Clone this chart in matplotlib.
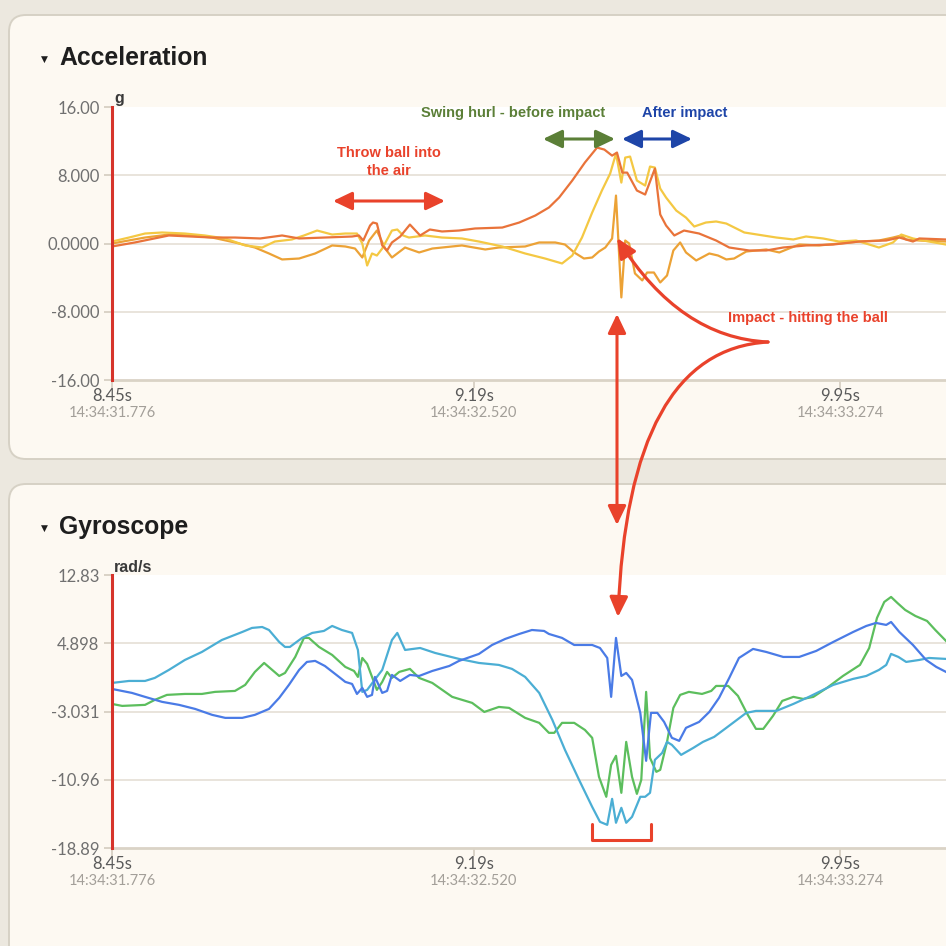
import matplotlib
matplotlib.use("Agg")
import matplotlib.pyplot as plt
from matplotlib.patches import FancyBboxPatch, FancyArrowPatch
from matplotlib.path import Path
from matplotlib.transforms import blended_transform_factory

# ---- acceleration (g) ----
acc_x_t = [8.450, 8.497, 8.567, 8.656, 8.703, 8.755, 8.800, 8.835, 8.888, 8.944,
           8.958, 8.967, 8.981, 8.987, 8.995, 9.006, 9.016, 9.026, 9.043, 9.063,
           9.084, 9.104, 9.129, 9.164, 9.197, 9.253, 9.288, 9.321, 9.349, 9.370,
           9.397, 9.423, 9.448, 9.463, 9.479, 9.489, 9.500, 9.510, 9.530, 9.547,
           9.567, 9.578, 9.590, 9.607, 9.627, 9.658, 9.693, 9.720, 9.761, 9.796,
           9.831, 9.878, 9.934, 9.987, 10.043, 10.070, 10.098, 10.111, 10.166]
acc_x = [-0.35, 0.12, 0.94, 0.70, 0.70, 0.59, 0.94, 0.59, 0.70, 0.82,
         0.94, 0.35, 2.11, 2.46, 2.34, -0.23, -0.82, 0.12, 0.82, 2.22,
         0.94, 1.64, 1.41, 1.52, 1.76, 1.87, 2.46, 3.28, 4.22, 5.39,
         7.38, 9.49, 11.24, 11.01, 10.30, 10.66, 8.31, 8.31, 6.21, 5.74,
         8.78, 3.40, 2.11, 0.94, 1.52, 1.17, 0.35, -0.47, -0.82, -0.82,
         -0.47, -0.23, -0.12, 0.23, 0.35, 0.70, 0.23, 0.59, 0.47]

acc_y_t = [8.450, 8.485, 8.518, 8.553, 8.600, 8.641, 8.683, 8.724, 8.759, 8.785,
           8.820, 8.845, 8.872, 8.903, 8.930, 8.954, 8.965, 8.975, 8.985, 8.995,
           9.006, 9.026, 9.037, 9.049, 9.061, 9.094, 9.129, 9.170, 9.205, 9.253,
           9.300, 9.341, 9.376, 9.397, 9.417, 9.438, 9.458, 9.475, 9.487, 9.498,
           9.506, 9.516, 9.530, 9.547, 9.557, 9.567, 9.578, 9.590, 9.611, 9.631,
           9.648, 9.672, 9.693, 9.714, 9.751, 9.790, 9.817, 9.852, 9.878, 9.913,
           9.946, 9.981, 10.028, 10.057, 10.074, 10.098, 10.131, 10.166]
acc_y = [0.23, 0.70, 1.17, 1.29, 1.17, 0.94, 0.59, -0.23, -0.47, 0.23,
         0.47, 0.94, 1.52, 1.05, 1.17, 1.17, 0.00, -2.58, -1.17, -1.41,
         -0.59, 1.52, 1.64, 0.94, 0.70, 0.94, 0.70, 0.59, 0.23, -0.35,
         -1.17, -1.76, -2.34, -1.41, 0.70, 3.63, 6.21, 8.20, 10.54, 7.14,
         10.07, 10.19, 7.38, 6.79, 9.02, 8.90, 6.44, 5.39, 3.86, 3.04,
         1.99, 2.46, 2.58, 2.34, 1.29, 0.94, 0.70, 0.47, 0.82, 0.59,
         0.23, 0.35, -0.47, 0.12, 1.05, 0.59, 0.23, -0.12]

acc_z_t = [8.450, 8.518, 8.567, 8.608, 8.656, 8.703, 8.744, 8.773, 8.800, 8.835,
           8.868, 8.903, 8.930, 8.950, 8.965, 8.979, 8.995, 9.012, 9.026, 9.053,
           9.082, 9.109, 9.170, 9.218, 9.246, 9.300, 9.329, 9.362, 9.382, 9.401,
           9.421, 9.438, 9.452, 9.465, 9.479, 9.487, 9.498, 9.506, 9.514, 9.526,
           9.541, 9.551, 9.565, 9.578, 9.592, 9.605, 9.619, 9.631, 9.652, 9.679,
           9.697, 9.714, 9.730, 9.755, 9.796, 9.823, 9.843, 9.864, 9.905, 9.946,
           9.987, 10.028, 10.057, 10.074, 10.084, 10.111, 10.166]
acc_z = [0.00, 0.70, 1.05, 0.94, 0.70, 0.12, -0.47, -1.17, -1.87, -1.76,
         -1.17, -0.23, -0.35, -0.59, -1.64, 0.35, 1.52, -0.59, -1.64, -0.47,
         -1.05, -0.59, -0.23, -0.70, -0.47, -0.35, 0.12, 0.12, -0.12, -1.05,
         -1.76, -1.64, -0.94, -0.47, 0.59, 5.62, -6.32, 0.35, 0.00, -3.51,
         -4.33, -3.40, -3.40, -4.57, -3.75, -0.82, 0.12, -1.05, -1.99, -1.17,
         -1.41, -1.87, -1.76, -0.94, -0.70, -1.05, -0.59, -0.12, -0.23, 0.00,
         0.23, 0.35, 0.70, 0.94, 0.47, 0.35, 0.23]

# ---- gyroscope (rad/s) ----
gyr_a_t = [8.450, 8.485, 8.518, 8.538, 8.567, 8.600, 8.635, 8.676, 8.718, 8.738,
           8.759, 8.773, 8.794, 8.806, 8.816, 8.841, 8.862, 8.886, 8.903, 8.923,
           8.944, 8.956, 8.965, 8.975, 8.995, 9.006, 9.026, 9.037, 9.053, 9.084,
           9.115, 9.164, 9.205, 9.246, 9.273, 9.300, 9.329, 9.356, 9.382, 9.411,
           9.438, 9.454, 9.469, 9.479, 9.487, 9.498, 9.508, 9.520, 9.537, 9.547,
           9.557, 9.567, 9.582, 9.592, 9.602, 9.621, 9.646, 9.666, 9.689, 9.714,
           9.755, 9.775, 9.817, 9.852, 9.884, 9.934, 9.975, 10.002, 10.028, 10.043,
           10.053, 10.068, 10.084, 10.111, 10.131, 10.166]
gyr_a = [0.29, 0.52, 0.52, 0.87, 1.80, 2.96, 3.89, 5.28, 6.21, 6.68,
         6.79, 6.44, 5.05, 4.47, 4.47, 5.52, 6.10, 6.33, 6.91, 6.44,
         6.10, 4.12, -0.75, -0.52, 0.99, 1.80, 5.28, 6.10, 4.12, 4.35,
         3.77, 3.08, 2.61, 2.38, 1.92, 0.99, -0.87, -4.00, -7.49, -10.97,
         -14.11, -15.85, -16.20, -13.18, -15.96, -14.22, -15.96, -15.27, -12.94, -12.94,
         -12.48, -8.65, -7.84, -6.56, -6.91, -8.07, -7.26, -6.56, -5.98, -4.93,
         -3.19, -2.96, -2.96, -2.15, -1.33, 0.06, 0.76, 1.10, 1.80, 2.38,
         3.66, 3.31, 2.73, 2.96, 3.19, 3.08]

gyr_b_t = [8.450, 8.491, 8.518, 8.553, 8.588, 8.621, 8.656, 8.683, 8.718, 8.744,
           8.773, 8.794, 8.814, 8.835, 8.851, 8.868, 8.888, 8.917, 8.930, 8.944,
           8.954, 8.965, 8.975, 8.985, 8.991, 9.006, 9.016, 9.026, 9.043, 9.063,
           9.082, 9.109, 9.144, 9.164, 9.205, 9.232, 9.259, 9.288, 9.314, 9.339,
           9.349, 9.376, 9.401, 9.438, 9.454, 9.469, 9.477, 9.487, 9.498, 9.508,
           9.520, 9.537, 9.549, 9.559, 9.572, 9.586, 9.602, 9.617, 9.631, 9.658,
           9.679, 9.699, 9.720, 9.740, 9.769, 9.796, 9.831, 9.864, 9.899, 9.934,
           9.975, 10.002, 10.022, 10.043, 10.053, 10.070, 10.098, 10.125, 10.146, 10.166]
gyr_b = [-0.41, -0.87, -1.33, -1.91, -2.26, -2.73, -3.42, -3.77, -3.77, -3.42,
         -2.73, -1.45, 0.06, 1.80, 2.73, 2.85, 2.26, 0.99, 0.41, 0.17,
         -0.99, -0.29, -1.33, -1.10, 0.99, -0.87, -0.64, 1.22, 0.52, 1.22,
         1.10, 1.68, 2.26, 2.85, 3.66, 4.70, 5.40, 5.98, 6.44, 6.33,
         5.98, 5.52, 4.70, 4.70, 4.35, 3.19, -1.33, 5.52, 1.10, 1.45,
         0.64, -3.19, -8.76, -3.19, -3.19, -4.24, -6.09, -6.44, -4.93, -4.24,
         -3.08, -1.45, 0.87, 3.19, 4.24, 3.89, 3.31, 3.31, 4.01, 5.05,
         6.21, 6.91, 7.26, 7.03, 7.37, 6.21, 4.70, 2.96, 2.15, 1.57]

gyr_c_t = [8.450, 8.471, 8.518, 8.538, 8.563, 8.600, 8.635, 8.662, 8.703, 8.724,
           8.744, 8.763, 8.794, 8.806, 8.827, 8.845, 8.855, 8.876, 8.903, 8.930,
           8.948, 8.956, 8.965, 8.975, 8.985, 8.995, 9.006, 9.016, 9.026, 9.041,
           9.063, 9.082, 9.109, 9.150, 9.191, 9.216, 9.246, 9.267, 9.300, 9.329,
           9.349, 9.360, 9.376, 9.401, 9.423, 9.438, 9.452, 9.467, 9.477, 9.487,
           9.498, 9.508, 9.520, 9.530, 9.539, 9.549, 9.557, 9.570, 9.578, 9.592,
           9.605, 9.619, 9.637, 9.664, 9.683, 9.693, 9.718, 9.738, 9.757, 9.775,
           9.790, 9.810, 9.829, 9.852, 9.872, 9.893, 9.921, 9.954, 9.989, 10.008,
           10.024, 10.039, 10.053, 10.066, 10.082, 10.103, 10.127, 10.144, 10.166]
gyr_c = [-2.15, -2.38, -2.26, -1.68, -1.10, -0.99, -0.99, -0.75, -0.64, 0.06,
         1.57, 2.61, 1.10, 1.45, 3.31, 5.52, 5.52, 4.47, 3.54, 2.15,
         1.68, 0.99, 3.19, 2.50, 0.99, -0.52, 0.41, 1.57, 0.87, 1.57,
         1.92, 0.87, 0.29, -1.33, -2.03, -3.08, -2.50, -2.61, -3.77, -4.35,
         -5.51, -5.51, -4.35, -4.35, -5.17, -6.09, -10.62, -12.94, -9.23, -8.18,
         -12.48, -6.56, -10.62, -12.60, -10.97, -0.75, -8.42, -10.04, -9.81, -6.56,
         -2.61, -1.10, -0.75, -0.99, -0.64, -0.06, -0.06, -1.22, -3.31, -5.05,
         -5.05, -3.54, -1.80, -1.33, -1.57, -1.33, -0.29, 1.10, 2.38, 4.35,
         7.84, 9.70, 10.28, 9.58, 8.77, 8.07, 7.49, 6.44, 5.17]

# ---- axes ----
acc_ticks = [-16, -8, 0, 8, 16]
acc_tick_labels = ["-16.00", "-8.000", "0.0000", "8.000", "16.00"]
gyr_ticks = [-18.89, -10.96, -3.031, 4.898, 12.83]
gyr_tick_labels = ["-18.89", "-10.96", "-3.031", "4.898", "12.83"]
time_ticks = [8.45, 9.194, 9.948]
time_labels = ["8.45s", "9.19s", "9.95s"]
clock_labels = ["14:34:31.776", "14:34:32.520", "14:34:33.274"]
t_min, t_max = 8.45, 10.166

PAGE = "#ECE8DF"
CARD = "#FDF9F2"
RED = "#E9422B"
TICKC = "#D3CCBF"
FONT = "Liberation Sans"

fig = plt.figure(figsize=(9.46, 9.46), dpi=100, facecolor=PAGE)

# background cards (pixel coordinates)
bg = fig.add_axes([0, 0, 1, 1], zorder=0)
bg.set_xlim(0, 946)
bg.set_ylim(946, 0)
bg.axis("off")
for top, bottom in [(15, 459), (484, 990)]:
    bg.add_patch(FancyBboxPatch((9, top), 1000, bottom - top,
                                boxstyle="round,pad=0,rounding_size=17",
                                fc=CARD, ec="#D6D1C5", lw=1.4))
for y, title in [(58, "Acceleration"), (527, "Gyroscope")]:
    bg.text(44, y + 1, "\u25bc", fontsize=6.5, ha="center", va="center",
            color="#1E1E1E", family="DejaVu Sans")
    bg.text(59, y, title, fontsize=17.8, fontweight="bold", ha="left",
            va="center", color="#1E1E1E", family=FONT)
bg.text(114, 103, "g", fontsize=11.5, fontweight="bold", color="#3A3A3A",
        va="baseline", family=FONT)
bg.text(114, 572, "rad/s", fontsize=11.5, fontweight="bold", color="#3A3A3A",
        va="baseline", family=FONT)


def style_axes(ax, ticks, labels):
    ax.set_facecolor("white")
    ax.set_xlim(t_min, t_max)
    ax.set_ylim(ticks[0], ticks[-1])
    ax.set_yticks(ticks)
    ax.set_yticklabels(labels, family="Lato", fontsize=12, color="#707070")
    ax.set_xticks(time_ticks)
    ax.set_xticklabels(time_labels, family="Lato", fontsize=12, color="#5A5A5A")
    ax.tick_params(axis="y", length=6, width=1.2, color=TICKC, pad=3)
    ax.tick_params(axis="x", length=6, width=1.2, color=TICKC, pad=0)
    for s in ("top", "right"):
        ax.spines[s].set_visible(False)
    ax.spines["left"].set_color("#D6342B")
    ax.spines["left"].set_linewidth(2.2)
    ax.spines["left"].set_zorder(5)
    ax.spines["bottom"].set_color("#DAD3C6")
    ax.spines["bottom"].set_linewidth(2)
    for yv in ticks[1:-1]:
        ax.axhline(yv, color="#E7E2D9", lw=1.3, zorder=1)
    tr = blended_transform_factory(ax.transData, ax.transAxes)
    for tv, lab in zip(time_ticks, clock_labels):
        ax.text(tv, -0.12, lab, transform=tr, ha="center", va="center",
                fontsize=10.5, color="#A39F99", family="Lato")


ax1 = fig.add_axes([112 / 946, (946 - 380) / 946, 834 / 946, 273 / 946], zorder=1)
style_axes(ax1, acc_ticks, acc_tick_labels)
ax1.plot(acc_z_t, acc_z, color="#ECA236", lw=1.6, zorder=3)
ax1.plot(acc_y_t, acc_y, color="#F4C843", lw=1.6, zorder=3)
ax1.plot(acc_x_t, acc_x, color="#E9733A", lw=1.6, zorder=3)

ax2 = fig.add_axes([112 / 946, (946 - 848) / 946, 834 / 946, 273 / 946], zorder=1)
style_axes(ax2, gyr_ticks, gyr_tick_labels)
ax2.plot(gyr_c_t, gyr_c, color="#5CBE5D", lw=1.6, zorder=3)
ax2.plot(gyr_a_t, gyr_a, color="#4BAED4", lw=1.6, zorder=3)
ax2.plot(gyr_b_t, gyr_b, color="#4A7BE6", lw=1.6, zorder=3)

# ---- annotation overlay (pixel coordinates) ----
ann = fig.add_axes([0, 0, 1, 1], zorder=3)
ann.set_xlim(0, 946)
ann.set_ylim(946, 0)
ann.patch.set_alpha(0)
ann.axis("off")


def double_arrow(x0, y0, x1, y1, color):
    ann.add_patch(FancyArrowPatch((x0, y0), (x1, y1),
                                  arrowstyle="<|-|>,head_length=1.15,head_width=0.55",
                                  mutation_scale=10, lw=2.2, color=color,
                                  shrinkA=0, shrinkB=0))


def curve_arrow(p0, p1, p2):
    path = Path([p0, p1, p2], [Path.MOVETO, Path.CURVE3, Path.CURVE3])
    ann.add_patch(FancyArrowPatch(path=path,
                                  arrowstyle="-|>,head_length=1.2,head_width=0.55",
                                  mutation_scale=10, lw=2.3, color=RED))


ann.text(389, 153, "Throw ball into", color=RED, fontsize=10.5, fontweight="bold",
         ha="center", va="center", family=FONT)
ann.text(389, 171, "the air", color=RED, fontsize=10.5, fontweight="bold",
         ha="center", va="center", family=FONT)
double_arrow(333, 201, 445, 201, RED)

ann.text(513, 113, "Swing hurl - before impact", color="#5B7F37", fontsize=10.5,
         fontweight="bold", ha="center", va="center", family=FONT)
double_arrow(543, 139, 615, 139, "#5B7F37")
ann.text(685, 113, "After impact", color="#1E45A8", fontsize=10.5,
         fontweight="bold", ha="center", va="center", family=FONT)
double_arrow(622, 139, 692, 139, "#1E45A8")

ann.text(728, 318, "Impact - hitting the ball", color=RED, fontsize=10.5,
         fontweight="bold", ha="left", va="center", family=FONT)
curve_arrow((768, 342), (680, 338), (617, 238))
curve_arrow((768, 342), (628, 350), (618, 617))
double_arrow(617, 314, 617, 525, RED)

ann.plot([592, 592, 651, 651], [824, 840, 840, 824], color=RED, lw=2.2,
         solid_joinstyle="round", solid_capstyle="round")

fig.savefig("out.png", dpi=100, facecolor=PAGE)
